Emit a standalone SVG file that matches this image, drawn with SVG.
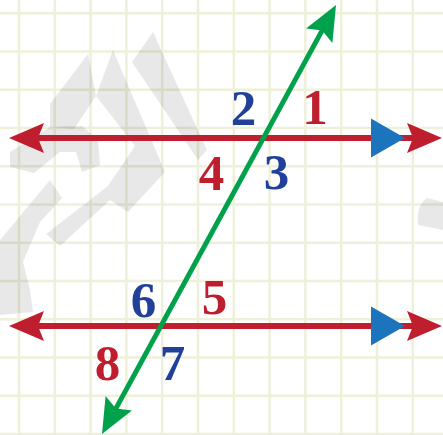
<svg xmlns="http://www.w3.org/2000/svg" width="443" height="435" viewBox="0 0 443 435">
<defs>
<path id="ah" d="M0,0 L-35,-15 L-29,0 L-35,15 Z"/>
<path id="tri" d="M-34,-19.5 L0,0 L-34,19.5 Z"/>
</defs>
<style>
.grid line{stroke:#eff0d9;stroke-width:2.5}
.wm{fill:#000;fill-opacity:0.09}
.red{stroke:#be1e2d;stroke-width:6}
.redf{fill:#be1e2d}
.green{stroke:#00a14b;stroke-width:5}
.greenf{fill:#00a14b}
.blue{fill:#1c75bc}
.lbl{font-family:"Liberation Serif","Times New Roman",serif;font-weight:bold;font-size:51px;text-anchor:middle}
.r{fill:#be1e2d}
.b{fill:#21409a}
</style>
<rect width="443" height="435" fill="#fff"/>
<g id="grid" class="grid">
<line x1="19" y1="0" x2="19" y2="435"/>
<line x1="54.8" y1="0" x2="54.8" y2="435"/>
<line x1="90.6" y1="0" x2="90.6" y2="435"/>
<line x1="126.4" y1="0" x2="126.4" y2="435"/>
<line x1="162.2" y1="0" x2="162.2" y2="435"/>
<line x1="198" y1="0" x2="198" y2="435"/>
<line x1="233.8" y1="0" x2="233.8" y2="435"/>
<line x1="269.6" y1="0" x2="269.6" y2="435"/>
<line x1="305.4" y1="0" x2="305.4" y2="435"/>
<line x1="341.2" y1="0" x2="341.2" y2="435"/>
<line x1="377" y1="0" x2="377" y2="435"/>
<line x1="412.8" y1="0" x2="412.8" y2="435"/>
<line x1="0" y1="13.3" x2="443" y2="13.3"/>
<line x1="0" y1="51.5" x2="443" y2="51.5"/>
<line x1="0" y1="89.8" x2="443" y2="89.8"/>
<line x1="0" y1="128" x2="443" y2="128"/>
<line x1="0" y1="166.3" x2="443" y2="166.3"/>
<line x1="0" y1="204.5" x2="443" y2="204.5"/>
<line x1="0" y1="242.8" x2="443" y2="242.8"/>
<line x1="0" y1="281" x2="443" y2="281"/>
<line x1="0" y1="319.3" x2="443" y2="319.3"/>
<line x1="0" y1="357.5" x2="443" y2="357.5"/>
<line x1="0" y1="395.8" x2="443" y2="395.8"/>
<line x1="0" y1="434" x2="443" y2="434"/>
</g>
<g id="watermark" class="wm">
<polygon points="132,62 153,32 207,150 198,160"/>
<polygon points="113,50 165,172 128,212 110,200 60,246 46,234 108,186 135,146 96,96"/>
<polygon points="88,54 96,96 74,129 50,127 50,104"/>
<polygon points="10,152 50,127 82,126 98,140 100,165 82,172 76,152 60,152 34,173 10,167"/>
<polygon points="50,180 62,198 40,222 23,262 30,290 33,312 0,315 0,240"/>
<path d="M427,198 L443,202 L443,230 L418,225 Q416,205 427,198 Z"/>
</g>
<g id="connectors">
<g id="line-top">
<line class="red" x1="30" y1="138" x2="425" y2="138"/>
<use href="#ah" class="redf" transform="translate(9,138) rotate(180)"/>
<use href="#ah" class="redf" transform="translate(442,138)"/>
<use href="#tri" class="blue" transform="translate(405,138)"/>
</g>
<g id="line-bottom">
<line class="red" x1="30" y1="326" x2="425" y2="326"/>
<use href="#ah" class="redf" transform="translate(9,326) rotate(180)"/>
<use href="#ah" class="redf" transform="translate(442,326)"/>
<use href="#tri" class="blue" transform="translate(405,326)"/>
</g>
<g id="transversal">
<line class="green" x1="326.4" y1="22.6" x2="111.6" y2="416.4"/>
<use href="#ah" class="greenf" transform="translate(336,5) rotate(-61.4)"/>
<use href="#ah" class="greenf" transform="translate(102,434) rotate(118.6)"/>
</g>
</g>
<g id="angle-1"><text class="lbl r" x="315" y="124">1</text></g>
<g id="angle-2"><text class="lbl b" x="243.5" y="125">2</text></g>
<g id="angle-3"><text class="lbl b" x="276.5" y="189">3</text></g>
<g id="angle-4"><text class="lbl r" x="211.5" y="190">4</text></g>
<g id="angle-5"><text class="lbl r" x="214.5" y="314">5</text></g>
<g id="angle-6"><text class="lbl b" x="143.5" y="317">6</text></g>
<g id="angle-7"><text class="lbl b" x="172.5" y="380">7</text></g>
<g id="angle-8"><text class="lbl r" x="107.5" y="380">8</text></g>
</svg>
